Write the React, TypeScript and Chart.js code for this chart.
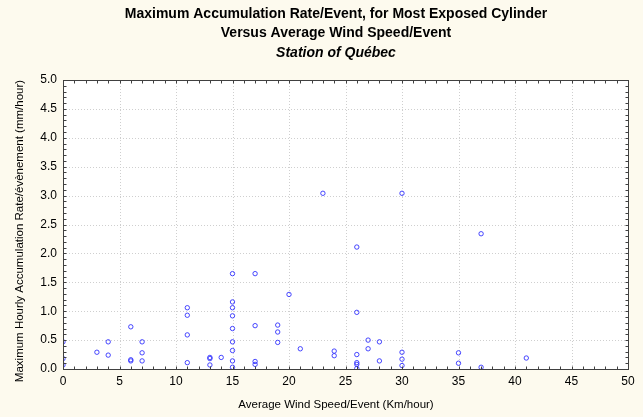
import React, { useEffect, useRef } from "react";
import { Chart, registerables } from "chart.js";

Chart.register(...registerables);

const titleLines = [
  "Maximum Accumulation Rate/Event, for Most Exposed Cylinder",
  "Versus Average Wind Speed/Event",
];
const subtitleText = "Station of Québec";
const xAxisTitle = "Average Wind Speed/Event (Km/hour)";
const yAxisTitle = "Maximum Hourly Accumulation Rate/évènement (mm/hour)";

// Average wind speed per event (km/h)
const windSpeed = [
  0, 0, 0,
  3,
  4, 4,
  6, 6, 6,
  7, 7, 7,
  11, 11, 11, 11,
  13, 13, 13,
  14,
  15, 15, 15, 15, 15, 15, 15, 15, 15,
  17, 17, 17, 17,
  19, 19, 19,
  20,
  21,
  23,
  24, 24,
  26, 26, 26, 26, 26, 26,
  27, 27,
  28, 28,
  30, 30, 30, 30,
  35, 35,
  37, 37,
  41,
];
// Maximum hourly accumulation rate per event (mm/h)
const accumRate = [
  0.47, 0.18, 0.07,
  0.29,
  0.47, 0.24,
  0.73, 0.16, 0.14,
  0.47, 0.28, 0.14,
  1.06, 0.93, 0.59, 0.11,
  0.2, 0.18, 0.07,
  0.2,
  1.65, 1.16, 1.06, 0.92, 0.7, 0.47, 0.32, 0.14, 0.03,
  1.65, 0.75, 0.13, 0.08,
  0.76, 0.64, 0.46,
  1.29,
  0.35,
  3.04,
  0.31, 0.23,
  2.11, 0.98, 0.25, 0.11, 0.08, 0.01,
  0.5, 0.35,
  0.47, 0.14,
  3.04, 0.29, 0.17, 0.06,
  0.28, 0.1,
  2.34, 0.03,
  0.19,
];

const xMin = 0, xMax = 50, xMajor = 5, xMinor = 1;
const yMin = 0, yMax = 5, yMajor = 0.5, yMinor = 0.1;

const FONT = "Arial, 'Liberation Sans', sans-serif";
const CREAM = "#fdfaee";

const decorPlugin = {
  id: "decor",
  beforeDraw(chart: any) {
    const { ctx, chartArea: a, width, height } = chart;
    ctx.save();
    ctx.fillStyle = CREAM;
    ctx.fillRect(0, 0, width, height);
    ctx.fillStyle = "#ffffff";
    ctx.fillRect(a.left, a.top, a.right - a.left, a.bottom - a.top);
    ctx.restore();
  },
  beforeDatasetsDraw(chart: any) {
    const { ctx, chartArea: a, scales } = chart;
    const xs = scales.x, ys = scales.y;
    ctx.save();
    ctx.strokeStyle = "#cfcfcf";
    ctx.lineWidth = 1;
    ctx.setLineDash([1, 2]);
    for (let v = xMin + xMajor; v < xMax - 1e-9; v += xMajor) {
      const px = Math.round(xs.getPixelForValue(v)) + 0.5;
      ctx.beginPath();
      ctx.moveTo(px, a.top);
      ctx.lineTo(px, a.bottom);
      ctx.stroke();
    }
    for (let v = yMin + yMajor; v < yMax - 1e-9; v += yMajor) {
      const py = Math.round(ys.getPixelForValue(v)) + 0.5;
      ctx.beginPath();
      ctx.moveTo(a.left, py);
      ctx.lineTo(a.right, py);
      ctx.stroke();
    }
    ctx.restore();
  },
  afterDraw(chart: any) {
    const { ctx, chartArea: a, scales } = chart;
    const xs = scales.x, ys = scales.y;
    ctx.save();
    ctx.strokeStyle = "#404040";
    ctx.lineWidth = 1;
    ctx.setLineDash([]);
    const L = Math.round(a.left) + 0.5, R = Math.round(a.right) + 0.5;
    const T = Math.round(a.top) + 0.5, B = Math.round(a.bottom) + 0.5;
    ctx.strokeRect(L, T, R - L, B - T);
    const tl = 3;
    ctx.beginPath();
    const nx = Math.round((xMax - xMin) / xMinor);
    for (let i = 1; i < nx; i++) {
      const px = Math.round(xs.getPixelForValue(xMin + i * xMinor)) + 0.5;
      ctx.moveTo(px, B);
      ctx.lineTo(px, B - tl);
      ctx.moveTo(px, T);
      ctx.lineTo(px, T + tl);
    }
    const ny = Math.round((yMax - yMin) / yMinor);
    for (let i = 1; i < ny; i++) {
      const py = Math.round(ys.getPixelForValue(yMin + i * yMinor)) + 0.5;
      ctx.moveTo(L, py);
      ctx.lineTo(L + tl, py);
      ctx.moveTo(R, py);
      ctx.lineTo(R - tl, py);
    }
    ctx.stroke();

    // titles
    ctx.fillStyle = "#000000";
    ctx.textAlign = "center";
    ctx.textBaseline = "middle";
    const cx = 336;
    ctx.font = `bold 14px ${FONT}`;
    ctx.fillText(titleLines[0], cx, 14);
    ctx.fillText(titleLines[1], cx, 33);
    ctx.font = `italic bold 14px ${FONT}`;
    ctx.fillText(subtitleText, cx, 53);

    // axis titles
    ctx.font = `11.5px ${FONT}`;
    ctx.fillText(xAxisTitle, cx, 405);
    ctx.translate(20, 231);
    ctx.rotate(-Math.PI / 2);
    ctx.fillText(yAxisTitle, 0, 0);
    ctx.restore();
  },
};

export default function App() {
  const ref = useRef<HTMLCanvasElement | null>(null);
  useEffect(() => {
    if (!ref.current) return;
    const data = windSpeed.map((x, i) => ({ x, y: accumRate[i] }));
    const chart = new Chart(ref.current, {
      type: "scatter",
      data: {
        datasets: [
          {
            data,
            pointStyle: "circle",
            pointRadius: 2.2,
            pointBorderWidth: 1,
            pointBorderColor: "rgba(40,40,255,0.85)",
            pointBackgroundColor: "rgba(0,0,0,0)",
            clip: 0,
          },
        ],
      },
      options: {
        animation: false,
        responsive: false,
        devicePixelRatio: 1,
        layout: { padding: { top: 80, right: 15, left: 0, bottom: 0 } },
        plugins: {
          legend: { display: false },
          tooltip: { enabled: false },
          title: { display: false },
        },
        scales: {
          x: {
            type: "linear",
            min: xMin,
            max: xMax,
            grid: { display: false, drawTicks: false },
            border: { display: false },
            ticks: {
              stepSize: xMajor,
              color: "#000000",
              font: { family: FONT, size: 12 },
              padding: 5,
              maxRotation: 0,
              callback: (v: any) => String(v),
            },
            title: { display: false },
            afterFit: (s: any) => {
              s.height = 48;
            },
          },
          y: {
            type: "linear",
            min: yMin,
            max: yMax,
            grid: { display: false, drawTicks: false },
            border: { display: false },
            ticks: {
              stepSize: yMajor,
              color: "#000000",
              font: { family: FONT, size: 12 },
              padding: 6,
              callback: (v: any) => Number(v).toFixed(1),
            },
            title: { display: false },
            afterFit: (s: any) => {
              s.width = 63;
            },
          },
        },
      },
      plugins: [decorPlugin],
    });
    return () => chart.destroy();
  }, []);
  return (
    <div style={{ position: "fixed", left: 0, top: 0, width: 643, height: 417, background: CREAM }}>
      <canvas ref={ref} width={643} height={417} style={{ display: "block" }} />
    </div>
  );
}
